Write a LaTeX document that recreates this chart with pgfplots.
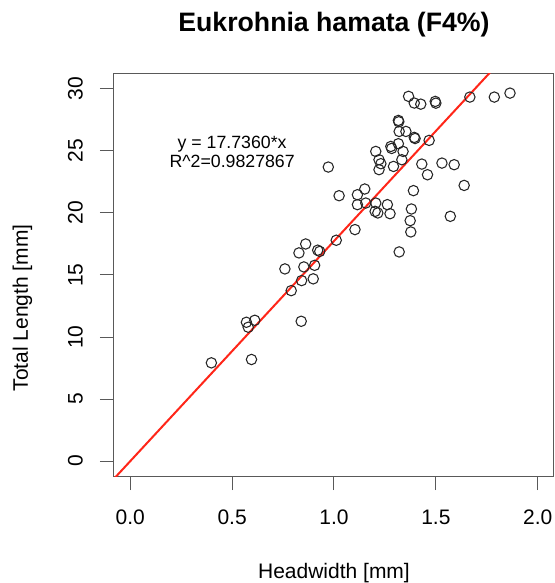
\documentclass[border=0pt]{standalone}
\usepackage{fontspec}
\setmainfont{Liberation Sans}
\usepackage{pgfplots}
\pgfplotsset{compat=1.18}
\definecolor{FIT}{rgb}{1,0.15,0.1}
\definecolor{FRAME}{gray}{0.35}

\begin{document}
\begin{tikzpicture}[x=0.75pt,y=0.75pt]
\path[use as bounding box] (0,0) rectangle (555,583);
\begin{axis}[
  at={(85.5pt,80.25pt)}, anchor=south west,
  scale only axis, width=330pt, height=301.5pt,
  xmin=-0.08, xmax=2.08, ymin=-1.2, ymax=31.2,
  xtick={0,0.5,1,1.5,2}, xticklabels={0.0,0.5,1.0,1.5,2.0},
  ytick={0,5,10,15,20,25,30}, yticklabels={0,5,10,15,20,25,30},
  xtick pos=bottom, ytick pos=left, tick align=outside,
  major tick length=10.5pt,
  axis line style={FRAME, line width=0.75pt},
  tick style={FRAME, line width=0.75pt},
  ticklabel style={font=\fontsize{15.75}{18}\selectfont, inner sep=0pt},
  xticklabel style={anchor=north},
  xticklabel shift=15pt,
  yticklabel style={rotate=90, anchor=south},
  yticklabel shift=12.75pt,
]
\addplot[only marks, mark=o, mark size=3.9pt, mark options={black!85, line width=0.8pt}] coordinates {
  (0.398,7.92) (0.595,8.19) (0.570,11.19) (0.611,11.35) (0.579,10.79)
  (0.839,11.27) (0.790,13.74) (0.841,14.55) (0.898,14.69) (0.759,15.49)
  (0.852,15.65) (0.905,15.78) (0.828,16.78) (0.861,17.50) (0.920,17.00)
  (0.930,16.90)
  (1.366,29.40) (1.394,28.86) (1.426,28.77) (1.497,28.99) (1.500,28.85)
  (1.667,29.34) (1.787,29.34) (1.864,29.66)
  (1.316,27.46) (1.318,27.35) (1.320,26.57) (1.353,26.57) (1.394,26.09)
  (1.398,26.00) (1.467,25.85)
  (1.279,25.36) (1.283,25.20) (1.316,25.58) (1.339,24.96) (1.205,24.96)
  (1.221,24.29) (1.230,23.97) (1.221,23.49) (1.292,23.75) (1.333,24.29)
  (1.431,23.94) (1.459,23.08) (1.530,24.02) (1.590,23.89) (0.972,23.70)
  (1.639,22.22)
  (1.390,21.80) (1.025,21.39) (1.115,21.47) (1.151,21.93) (1.115,20.67)
  (1.156,20.80) (1.205,20.80) (1.202,20.13) (1.215,20.00) (1.262,20.67)
  (1.275,19.94) (1.380,20.32) (1.374,19.38) (1.377,18.47) (1.571,19.73)
  (1.103,18.66) (1.011,17.80) (1.320,16.86)
};
% fitted line y = 17.7360*x through the origin
\addplot[FIT, line width=1.5pt] coordinates {(-0.08,-1.41888) (2.08,36.8909)};
\node[align=center, font=\fontsize{13.3}{14.25}\selectfont] at (axis cs:0.5,24.9)
  {y = 17.7360*x\\R\string^2=0.9827867};
\end{axis}
\node[anchor=base, font=\fontsize{20}{24}\selectfont\bfseries] at (334,551)
  {Eukrohnia hamata (F4\%)};
\node[anchor=base, font=\fontsize{15.75}{18}\selectfont] at (334,4)
  {Headwidth [mm]};
\node[anchor=base, rotate=90, font=\fontsize{15.75}{18}\selectfont] at (28,275)
  {Total Length [mm]};
\end{tikzpicture}
\end{document}
